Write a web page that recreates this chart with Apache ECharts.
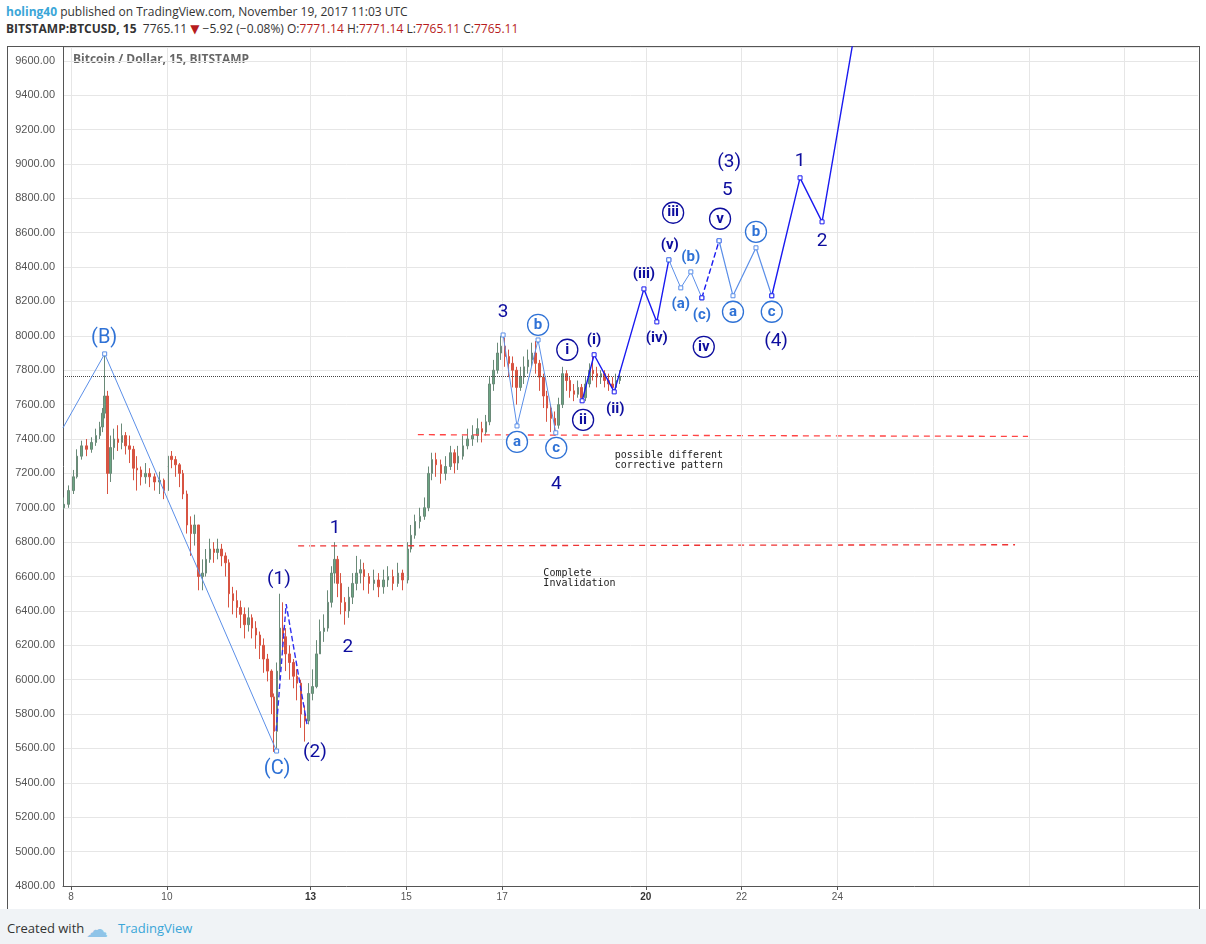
<!DOCTYPE html>
<html>
<head>
<meta charset="utf-8">
<script src="https://cdn.jsdelivr.net/npm/echarts@6/dist/echarts.min.js"></script>
<style>
  body { margin: 0; background: #fff; font-family: "Open Sans", "DejaVu Sans", sans-serif; }
  #head { position: absolute; left: 6px; top: 3px; font-size: 12px; color: #333; line-height: 17px; }
  #head b { font-weight: 700; }
  #head .red { color: #b71c1c; }
  #frame { position: absolute; left: 7px; top: 46px; width: 1191px; height: 862px; border: 1px solid #555; }
  #main { position: absolute; left: 0; top: 0; width: 1206px; height: 944px; }
  #foot { position: absolute; left: 0; top: 909px; width: 1206px; height: 35px; background: #f0f3f6; font-size: 13px; color: #333; }
  #foot span { position: absolute; top: 10px; }
</style>
</head>
<body>
<div id="head">
  <div><b style="color:#3aa6d8">holing40</b> published on TradingView.com, November 19, 2017 11:03 UTC</div>
  <div><b>BITSTAMP:BTCUSD, 15</b>&nbsp; 7765.11 <span class="red">▼</span> −5.92 (−0.08%) O:<span class="red">7771.14</span> H:<span class="red">7771.14</span> L:<span class="red">7765.11</span> C:<span class="red">7765.11</span></div>
</div>
<div id="frame"></div>
<div id="main"></div>
<div id="foot"><span style="left:7px">Created with</span><span style="left:86px;top:4px;font-size:22px;color:#8fc4e8">☁</span><span style="left:118px;color:#3aa6d8">TradingView</span></div>
<script>
// candles (day of November, close, high, low) - open is previous close
var days = [7.85,7.95,8.05,8.12,8.22,8.32,8.42,8.52,8.60,8.66,8.70,8.76,8.82,8.90,8.98,9.06,9.14,9.22,9.30,9.38,9.46,9.55,9.64,9.74,9.84,9.94,
  10.02,10.10,10.18,10.26,10.34,10.42,10.50,10.58,10.66,10.74,10.82,10.90,10.98,11.06,11.14,11.22,11.30,11.38,11.46,11.54,11.62,11.70,11.78,11.86,11.94,
  12.02,12.10,12.18,12.24,12.30,12.36,12.42,12.48,12.56,12.64,12.72,12.80,12.88,12.96,13.04,13.12,13.20,13.28,13.36,13.44,13.50,13.56,13.64,13.72,13.80,13.88,13.96,
  14.04,14.12,14.22,14.32,14.42,14.52,14.62,14.72,14.82,14.92,15.02,15.10,15.18,15.28,15.38,15.46,15.54,15.62,15.72,15.82,15.92,
  16.00,16.08,16.18,16.28,16.38,16.48,16.58,16.66,16.74,16.82,16.90,16.98,17.06,17.14,17.22,17.30,17.38,17.46,17.54,17.62,17.70,17.78,17.86,17.94,
  18.02,18.10,18.18,18.26,18.34,18.42,18.50,18.58,18.66,18.74,18.82,18.90,18.98,19.06,19.14,19.22,19.30,19.38,19.46];
var closes = [7020,7100,7180,7300,7360,7340,7380,7420,7470,7550,7650,7200,7350,7400,7380,7420,7360,7340,7230,7220,7180,7200,7180,7150,7160,7100,
  7300,7280,7250,7200,7080,6900,6850,6900,6600,6620,6700,6760,6740,6760,6720,6680,6500,6460,6420,6380,6320,6360,6300,6260,6200,
  6120,6050,5900,5700,6050,6300,6250,6150,6100,6020,5980,5800,5760,5920,5960,6150,6280,6300,6450,6620,6700,6560,6450,6400,6480,6560,6620,
  6640,6600,6560,6580,6540,6580,6600,6560,6620,6580,6760,6840,6920,6950,7000,7200,7280,7250,7200,7240,7320,
  7260,7300,7360,7400,7420,7460,7440,7500,7720,7800,7900,7940,7880,7840,7800,7700,7760,7820,7860,7900,7840,7760,7650,7580,
  7520,7480,7600,7780,7740,7680,7660,7700,7640,7720,7800,7780,7760,7780,7740,7720,7700,7740,7765];
var highs = [7060,7130,7220,7340,7390,7400,7410,7460,7500,7580,7890,7680,7420,7460,7480,7490,7440,7420,7360,7300,7240,7260,7230,7200,7210,7170,
  7340,7330,7300,7260,7220,7100,6950,6960,6900,6700,6760,6820,6800,6820,6790,6740,6700,6540,6520,6460,6420,6420,6380,6340,6280,
  6240,6150,6060,5920,6100,6500,6450,6300,6200,6120,6060,6000,5850,5980,6060,6230,6350,6380,6520,6660,6800,6720,6620,6480,6540,6620,6720,
  6700,6680,6620,6640,6620,6640,6660,6640,6680,6640,6800,6900,6960,7000,7060,7240,7320,7320,7280,7300,7360,
  7340,7360,7420,7460,7480,7520,7500,7540,7760,7860,7960,8000,7990,7920,7880,7820,7820,7880,7920,7960,7970,7860,7780,7680,
  7600,7560,7640,7820,7800,7760,7720,7740,7720,7760,7840,7880,7820,7800,7800,7780,7760,7780,7800];
var lows = [6990,7000,7080,7170,7280,7300,7320,7360,7400,7440,7520,7080,7150,7280,7330,7340,7310,7260,7160,7100,7130,7140,7120,7100,7080,7050,
  7080,7230,7180,7120,7050,6850,6720,6780,6520,6520,6600,6680,6680,6700,6660,6600,6420,6380,6360,6300,6240,6280,6240,6180,6120,
  6040,5990,5800,5580,5600,6000,6150,6050,6000,5950,5880,5720,5640,5740,5880,5950,6150,6220,6280,6420,6560,6480,6380,6320,6360,6440,6520,
  6560,6520,6500,6520,6480,6500,6540,6520,6540,6520,6560,6740,6820,6880,6930,6980,7160,7180,7140,7160,7220,
  7200,7220,7280,7340,7360,7380,7380,7420,7480,7680,7780,7860,7820,7760,7700,7600,7680,7720,7780,7820,7780,7680,7580,7500,
  7440,7420,7460,7580,7680,7640,7620,7640,7610,7620,7700,7740,7700,7720,7700,7680,7670,7680,7720];

// wave count lines [day, price]
var waveBC = [[7.83, 7465], [8.70, 7895], [12.29, 5585]];
var wave34 = [[17.02, 8005], [17.31, 7476], [17.75, 7976], [18.12, 7436]];
var waveSub = [[18.67, 7622], [18.92, 7890], [19.34, 7674], [19.96, 8273], [20.23, 8081], [20.48, 8442]];
var waveAbc1 = [[20.48, 8442], [20.73, 8279], [20.94, 8372], [21.17, 8221]];
var waveDash = [[21.17, 8221], [21.53, 8553]];
var waveAbc2 = [[21.53, 8553], [21.82, 8233], [22.30, 8512], [22.63, 8233]];
var waveUp = [[22.63, 8233], [23.22, 8919], [23.68, 8663], [24.33, 9716]];
var dashLeft = [[12.28, 5702], [12.49, 6440], [12.93, 5731]];
var redUpper = [[15.24, 7425], [27.98, 7415]];
var redLower = [[12.74, 6778], [27.71, 6785]];
var lastPrice = 7765.11;

// labels: [day, price, text]
var plainLight = [[8.69, 7988, '(B)'], [12.30, 5481, '(C)']];
var plainDark = [[12.34, 6586, '(1)'], [13.09, 5580, '(2)'], [13.51, 6883, '1'], [13.78, 6191, '2'], [17.02, 8140, '3'],
  [18.13, 7139, '4'], [21.70, 8844, '5'], [21.74, 9012, '(3)'], [23.22, 9018, '1'], [23.68, 8553, '2'], [22.72, 7971, '(4)']];
var boldDark = [[18.92, 7977, '(i)'], [19.36, 7575, '(ii)'], [19.96, 8361, '(iii)'], [20.23, 7988, '(iv)'], [20.50, 8529, '(v)']];
var boldLight = [[20.73, 8186, '(a)'], [20.94, 8460, '(b)'], [21.17, 8122, '(c)']];
var circLight = [[17.31, 7383, 'a'], [17.75, 8064, 'b'], [18.13, 7348, 'c'], [21.82, 8140, 'a'], [22.30, 8605, 'b'], [22.63, 8140, 'c']];
var circDark = [[18.36, 7919, 'i'], [18.69, 7511, 'ii'], [20.57, 8716, 'iii'], [21.21, 7936, 'iv'], [21.55, 8681, 'v']];
var notes = [[19.34, 7273, 'possible different\ncorrective pattern'], [17.85, 6592, 'Complete\nInvalidation']];

var xLabelDays = [8, 10, 13, 15, 17, 20, 22, 24];
var gridDays = [8, 10, 13, 15, 17, 20, 22, 24, 26, 28, 30];

var LIGHT = '#2f72d6', DARK = '#0d0d9e', LINE_DARK = '#1a1af0';

var candleData = days.map(function (d, i) {
    var open = i === 0 ? closes[0] - 20 : closes[i - 1];
    return [d, open, closes[i], lows[i], highs[i]];
});

function lineSeries(data, color, width, dashed, noFirst) {
    return {
        type: 'line', silent: true, z: 5,
        data: data.map(function (p, i) {
            return (noFirst && i === 0) ? { value: p, symbol: 'none' } : p;
        }),
        symbol: 'rect', symbolSize: 4, showSymbol: true,
        itemStyle: { color: '#fff', borderColor: color, borderWidth: 1 },
        lineStyle: { color: color, width: width, type: dashed ? 'dashed' : 'solid' }
    };
}
function textSeries(data, color, size, weight, circled, family) {
    return {
        type: 'scatter', z: 6, silent: true,
        data: data.map(function (p) { return { value: [p[0], p[1]], name: p[2] }; }),
        symbol: 'circle',
        symbolSize: circled ? 21 : 1,
        itemStyle: circled ? { color: '#fff', borderColor: color, borderWidth: 1.3, opacity: 1 } : { color: 'rgba(0,0,0,0)', opacity: 1 },
        label: {
            show: true, position: family ? 'right' : 'inside', distance: 0, formatter: '{b}', color: color,
            fontSize: size, fontWeight: weight, fontFamily: family || 'Roboto, sans-serif', lineHeight: family ? 10 : size + 2
        }
    };
}

var option = {
    animation: false,
    grid: { left: 63, right: 8, top: 47, bottom: 58 },
    xAxis: {
        type: 'value', min: 7.83, max: 31.53,
        axisLine: { show: true, lineStyle: { color: '#555' } },
        axisTick: { show: true, customValues: xLabelDays, length: 4, lineStyle: { color: '#555' } },
        splitLine: { show: false },
        axisLabel: {
            color: '#555', fontSize: 10, margin: 6, customValues: xLabelDays,
            formatter: function (v) {
                return (v === 13 || v === 20) ? '{b|' + v + '}' : '' + v;
            },
            rich: { b: { fontWeight: 'bold', fontSize: 10, color: '#333' } }
        }
    },
    yAxis: {
        type: 'value', min: 4800, max: 9680, interval: 200,
        axisLine: { show: true, lineStyle: { color: '#555' } },
        axisTick: { show: false },
        splitLine: { lineStyle: { color: '#e6e6e6' } },
        axisLabel: { color: '#555', fontSize: 11, showMaxLabel: false, formatter: function (v) { return v.toFixed(2); } }
    },
    graphic: [{ type: 'text', left: 73, top: 54, style: { text: 'Bitcoin / Dollar, 15, BITSTAMP', fill: '#666', font: 'bold 12px "Open Sans", sans-serif' } }],
    series: [
        {
            type: 'line', data: [], silent: true,
            markLine: {
                symbol: 'none', silent: true, label: { show: false },
                lineStyle: { color: '#e6e6e6', type: 'solid', width: 1 },
                data: gridDays.map(function (d) { return { xAxis: d }; })
            }
        },
        {
            type: 'candlestick', data: candleData, barWidth: 2,
            encode: { x: 0, y: [1, 2, 3, 4] },
            itemStyle: { color: '#6BA583', color0: '#D75442', borderColor: '#6a8a78', borderColor0: '#D75442', borderWidth: 1 },
            markLine: {
                symbol: 'none', silent: true, label: { show: false },
                lineStyle: { color: '#444', type: 'dotted', width: 1 },
                data: [{ yAxis: lastPrice }]
            }
        },
        lineSeries(waveBC, '#5b8fe8', 1, false, true),
        lineSeries(wave34, '#5b8fe8', 1),
        lineSeries(waveSub, LINE_DARK, 1.4),
        lineSeries(waveAbc1, '#5b8fe8', 1),
        lineSeries(waveDash, LINE_DARK, 1.4, true),
        lineSeries(waveAbc2, '#5b8fe8', 1.2),
        lineSeries(waveUp, LINE_DARK, 1.4),
        { type: 'line', data: dashLeft, symbol: 'none', silent: true, lineStyle: { color: '#3030f0', width: 1.4, type: 'dashed' }, z: 5 },
        { type: 'line', data: redUpper, symbol: 'none', silent: true, lineStyle: { color: '#f44', width: 1.3, type: [6, 5] }, z: 4 },
        { type: 'line', data: redLower, symbol: 'none', silent: true, lineStyle: { color: '#e33', width: 1.3, type: [6, 5] }, z: 4 },
        textSeries(plainLight, LIGHT, 20, 'normal'),
        textSeries(plainDark, DARK, 19, 'normal'),
        textSeries(boldDark, DARK, 15, 'bold'),
        textSeries(boldLight, LIGHT, 15, 'bold'),
        textSeries(circLight, LIGHT, 15, 'bold', true),
        textSeries(circDark, DARK, 15, 'bold', true),
        textSeries(notes, '#222', 10, 'normal', false, '"DejaVu Sans Mono", monospace')
    ]
};

var myChart = echarts.init(document.getElementById('main'));
myChart.setOption(option);
</script>
</body>
</html>
